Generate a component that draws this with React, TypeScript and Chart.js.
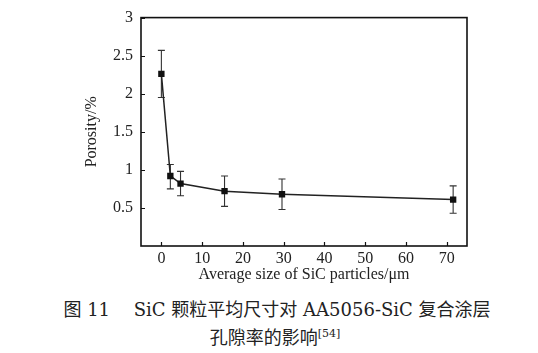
import React, { useEffect, useRef } from "react";
import { Chart, registerables } from "chart.js";

Chart.register(...registerables);

const particleSizes = [0, 2.2, 4.7, 15.5, 29.6, 71.6];
const porosity = [2.26, 0.92, 0.82, 0.72, 0.68, 0.61];
const porosityUpper = [2.57, 1.07, 0.98, 0.92, 0.88, 0.79];
const porosityLower = [1.95, 0.75, 0.66, 0.52, 0.48, 0.43];

const xTickValues = [0, 10, 20, 30, 40, 50, 60, 70];
const yTickValues = [0.5, 1, 1.5, 2, 2.5, 3];

const xTitle = "Average size of SiC particles/\u03bcm";
const yTitle = "Porosity/%";

const SERIF = "'Liberation Serif', 'Times New Roman', serif";

const framePlugin = {
  id: "frameAndTicks",
  beforeDatasetsDraw(chart: any) {
    const ctx = chart.ctx;
    const xs = chart.scales.x;
    const ys = chart.scales.y;
    ctx.save();
    ctx.strokeStyle = "#333";
    ctx.lineWidth = 1.1;
    for (let i = 0; i < particleSizes.length; i++) {
      const x = xs.getPixelForValue(particleSizes[i]);
      const yt = ys.getPixelForValue(porosityUpper[i]);
      const yb = ys.getPixelForValue(porosityLower[i]);
      ctx.beginPath();
      ctx.moveTo(x, yt);
      ctx.lineTo(x, yb);
      ctx.moveTo(x - 3.5, yt);
      ctx.lineTo(x + 3.5, yt);
      ctx.moveTo(x - 3.5, yb);
      ctx.lineTo(x + 3.5, yb);
      ctx.stroke();
    }
    ctx.restore();
  },
  afterDraw(chart: any) {
    const ctx = chart.ctx;
    const { left, right, top, bottom } = chart.chartArea;
    const xs = chart.scales.x;
    const ys = chart.scales.y;
    ctx.save();
    ctx.strokeStyle = "#111";
    ctx.lineWidth = 1.6;
    ctx.strokeRect(left, top, right - left, bottom - top);
    ctx.lineWidth = 1.2;
    ctx.beginPath();
    xs.ticks.forEach((t: any) => {
      const x = Math.round(xs.getPixelForValue(t.value)) + 0.5;
      ctx.moveTo(x, bottom);
      ctx.lineTo(x, bottom - 4);
    });
    ys.ticks.forEach((t: any) => {
      const y = Math.round(ys.getPixelForValue(t.value)) + 0.5;
      ctx.moveTo(left, y);
      ctx.lineTo(left + 4, y);
    });
    ctx.stroke();
    ctx.restore();
  },
};

export default function App() {
  const ref = useRef<HTMLCanvasElement>(null);
  useEffect(() => {
    if (!ref.current) return;
    const chart = new Chart(ref.current, {
      type: "line",
      data: {
        datasets: [
          {
            data: particleSizes.map((x, i) => ({ x, y: porosity[i] })),
            borderColor: "#222",
            borderWidth: 1.5,
            backgroundColor: "#111",
            pointStyle: "rect",
            pointRadius: 4.5,
            pointBorderWidth: 0,
            pointBackgroundColor: "#111",
            tension: 0,
          },
        ],
      },
      options: {
        responsive: false,
        animation: false,
        layout: { padding: { left: 0, right: 71, top: 11, bottom: 0 } },
        plugins: { legend: { display: false }, tooltip: { enabled: false } },
        scales: {
          x: {
            type: "linear",
            min: -5,
            max: 75,
            grid: { display: false, drawTicks: false },
            border: { display: false },
            ticks: {
              padding: 3,
              color: "#222",
              font: { family: SERIF, size: 16 },
              callback: (v: any) => String(v),
            },
            afterBuildTicks(scale: any) {
              scale.ticks = xTickValues.map((v) => ({ value: v }));
            },
            afterFit(scale: any) {
              scale.height = 44;
            },
            title: {
              display: true,
              text: xTitle,
              color: "#222",
              font: { family: SERIF, size: 16, lineHeight: 1.2 },
              padding: { top: 0, bottom: 6 },
            },
          },
          y: {
            type: "linear",
            min: 0,
            max: 3,
            grid: { display: false, drawTicks: false },
            border: { display: false },
            ticks: {
              padding: 8,
              color: "#222",
              font: { family: SERIF, size: 16 },
              callback: (v: any) => String(v),
            },
            afterBuildTicks(scale: any) {
              scale.ticks = yTickValues.map((v) => ({ value: v }));
            },
            afterFit(scale: any) {
              scale.width = 141;
            },
            title: {
              display: true,
              text: yTitle,
              color: "#222",
              font: { family: SERIF, size: 16, lineHeight: 1.2 },
              padding: { top: 82.4, bottom: 0 },
            },
          },
        },
      },
      plugins: [framePlugin],
    });
    return () => chart.destroy();
  }, []);

  const captionFont = "'DejaVu Serif', 'Noto Sans CJK SC', serif";
  return (
    <div style={{ position: "absolute", left: 0, top: 0, width: 538, height: 353, background: "#fff" }}>
      <canvas ref={ref} width={538} height={290} style={{ display: "block", width: 538, height: 290 }} />
      <div
        style={{
          position: "absolute",
          left: 0,
          width: 554,
          top: 298,
          textAlign: "center",
          fontFamily: captionFont,
          fontSize: 18,
          lineHeight: "24px",
          color: "#222",
          whiteSpace: "pre",
        }}
      >
        {"图 11\u3000 SiC 颗粒平均尺寸对 AA5056-SiC 复合涂层"}
      </div>
      <div
        style={{
          position: "absolute",
          left: 0,
          width: 550,
          top: 326,
          textAlign: "center",
          fontFamily: captionFont,
          fontSize: 18,
          lineHeight: "24px",
          color: "#222",
          whiteSpace: "pre",
        }}
      >
        {"孔隙率的影响"}
        <sup style={{ fontSize: 11, verticalAlign: "7px", lineHeight: 0 }}>[54]</sup>
      </div>
    </div>
  );
}
